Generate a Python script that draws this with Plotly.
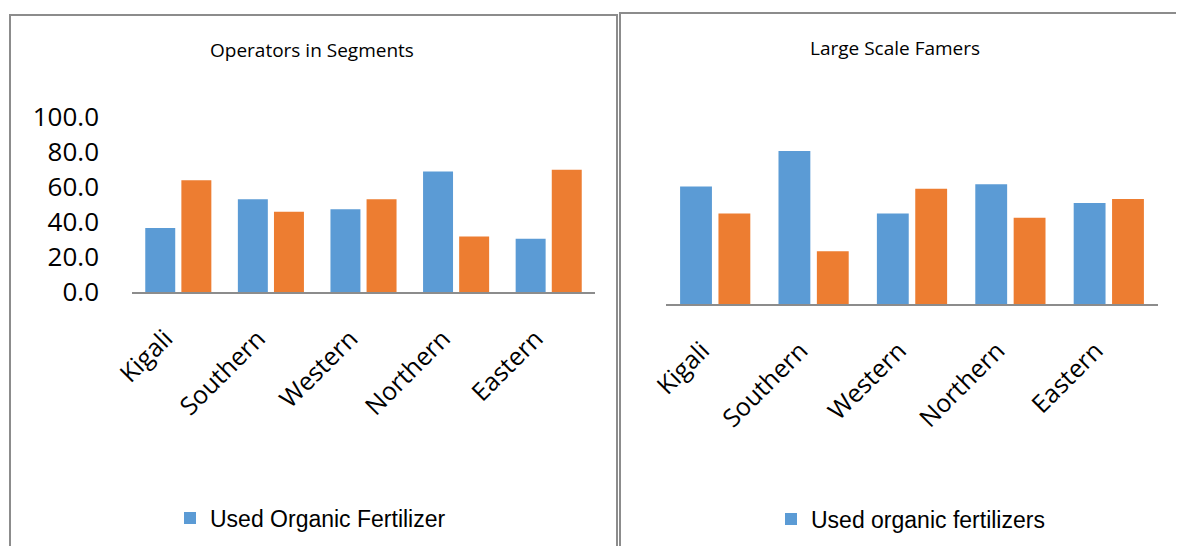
import plotly.graph_objects as go

categories = ["Kigali", "Southern", "Western", "Northern", "Eastern"]
ops_used = [36.6, 53.0, 47.3, 68.8, 30.5]
ops_not_used = [63.8, 45.9, 53.0, 31.7, 69.9]
large_used = [57.0, 74.3, 43.9, 58.1, 49.0]
large_not_used = [43.9, 25.6, 56.0, 41.9, 51.0]
y_ticks = [0, 20, 40, 60, 80, 100]

BLUE = "#5B9BD5"
ORANGE = "#ED7D31"
OFF = 8  # page body margin
W, H = 1184 - OFF, 546 - OFF

fig = go.Figure()
fig.add_trace(go.Bar(x=categories, y=ops_used, name="Used Organic Fertilizer",
                     marker_color=BLUE, xaxis="x", yaxis="y", legend="legend"))
fig.add_trace(go.Bar(x=categories, y=ops_not_used, name="Did not use",
                     marker_color=ORANGE, xaxis="x", yaxis="y", showlegend=False))
fig.add_trace(go.Bar(x=categories, y=large_used, name="Used organic fertilizers",
                     marker_color=BLUE, xaxis="x2", yaxis="y2", legend="legend2"))
fig.add_trace(go.Bar(x=categories, y=large_not_used, name="Did not use",
                     marker_color=ORANGE, xaxis="x2", yaxis="y2", showlegend=False))

tickfont = dict(family="Open Sans", size=25, color="#000000")

def px(x):
    return (x - OFF) / W

def py(y):
    return 1 - (y - OFF) / H

fig.update_layout(
    template="none",
    width=W, height=H,
    margin=dict(l=0, r=0, t=0, b=0, pad=0, autoexpand=False),
    paper_bgcolor="white", plot_bgcolor="white",
    barmode="group", bargap=0.22, bargroupgap=0.17,
    xaxis=dict(domain=[px(132), px(595)], anchor="y", showline=True, automargin=False,
               linecolor="#8C8C8C", linewidth=2, tickangle=-45, ticks="",
               tickfont=tickfont, showgrid=False, zeroline=False,
               ticklabelstandoff=20, ticklabelshift=-13),
    yaxis=dict(domain=[py(292), py(117)], anchor="x", range=[0, 100], automargin=False,
               tickvals=y_ticks, tickformat=".1f", showgrid=False, ticks="",
               zeroline=False, showline=False,
               tickfont=dict(family="Open Sans", size=26, color="#000000"),
               ticklabelstandoff=32),
    xaxis2=dict(domain=[px(666), px(1158)], anchor="y2", showline=True, automargin=False,
                linecolor="#8C8C8C", linewidth=2, tickangle=-45, ticks="",
                tickfont=tickfont, showgrid=False, zeroline=False,
                ticklabelstandoff=20, ticklabelshift=-13),
    yaxis2=dict(domain=[py(304), py(98)], anchor="x2", range=[0, 100], automargin=False,
                showticklabels=False, showgrid=False, zeroline=False, showline=False, ticks=""),
    legend=dict(x=px(170), y=py(518), xanchor="left", yanchor="middle",
                font=dict(family="Liberation Sans", size=23, color="#000000"),
                bgcolor="rgba(0,0,0,0)"),
    legend2=dict(x=px(771), y=py(519), xanchor="left", yanchor="middle",
                 font=dict(family="Liberation Sans", size=23, color="#000000"),
                 bgcolor="rgba(0,0,0,0)"),
    showlegend=True,
)

fig.add_annotation(text="Operators in Segments", x=px(312), y=py(50), xref="paper", yref="paper",
                   xanchor="center", yanchor="middle",
                   showarrow=False, font=dict(family="Open Sans", size=19, color="#000000"))
fig.add_annotation(text="Large Scale Famers", x=px(895), y=py(48), xref="paper", yref="paper",
                   xanchor="center", yanchor="middle",
                   showarrow=False, font=dict(family="Open Sans", size=19, color="#000000"))

# panel borders
fig.add_shape(type="rect", xref="paper", yref="paper", x0=px(10), x1=px(617), y0=py(560), y1=py(15),
              line=dict(color="#8C8C8C", width=2), fillcolor="rgba(0,0,0,0)")
fig.add_shape(type="rect", xref="paper", yref="paper", x0=px(620), x1=px(1200), y0=py(560), y1=py(13),
              line=dict(color="#8C8C8C", width=2), fillcolor="rgba(0,0,0,0)")

fig.write_html("out.html")
